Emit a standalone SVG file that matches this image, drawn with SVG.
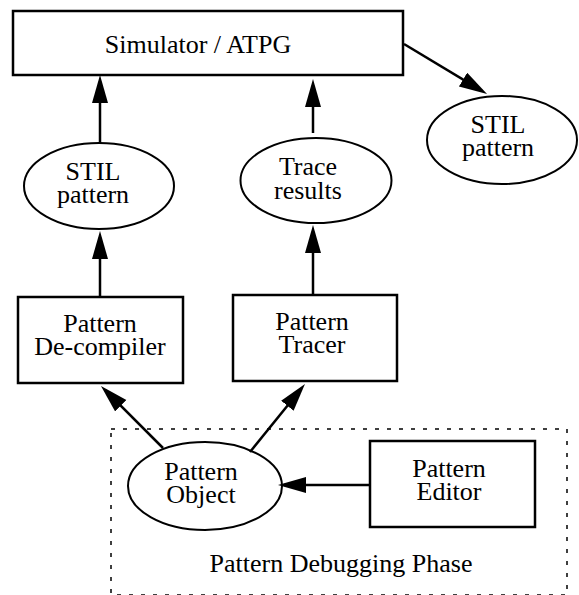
<svg xmlns="http://www.w3.org/2000/svg" width="579" height="595" viewBox="0 0 579 595">
<style>
.box{fill:#fff;stroke:#000;stroke-width:2.5}
.ell{fill:#fff;stroke:#000;stroke-width:2}
.t{font-family:"Liberation Serif","Times New Roman",serif;font-size:26px;fill:#000;text-anchor:middle}
.c{fill:none;stroke:#000;stroke-width:2.5;marker-end:url(#ah)}
.dash{fill:none;stroke:#000;stroke-width:1.5;stroke-dasharray:4 8}
</style>
<defs>
<marker id="ah" markerUnits="userSpaceOnUse" markerWidth="30" markerHeight="18" refX="22" refY="8" orient="auto">
<path d="M0,0 L28,8 L0,16 z" fill="#000"/>
</marker>
</defs>
<rect class="dash" x="111" y="429" width="456" height="166"/>
<g id="simulator">
<rect class="box" x="13" y="11" width="390" height="64"/>
<text class="t" x="198" y="53">Simulator / ATPG</text>
</g>
<g id="stil-left">
<ellipse class="ell" cx="99" cy="186" rx="75" ry="43"/>
<text class="t" x="93" y="180">STIL</text>
<text class="t" x="93" y="203">pattern</text>
</g>
<g id="trace-results">
<ellipse class="ell" cx="316" cy="180.5" rx="75.5" ry="42.5"/>
<text class="t" x="308" y="175">Trace</text>
<text class="t" x="308" y="199">results</text>
</g>
<g id="stil-right">
<ellipse class="ell" cx="502" cy="140" rx="75" ry="44"/>
<text class="t" x="498" y="133">STIL</text>
<text class="t" x="498" y="156">pattern</text>
</g>
<g id="decompiler">
<rect class="box" x="18" y="297" width="165" height="86"/>
<text class="t" x="100" y="332">Pattern</text>
<text class="t" x="100" y="355">De-compiler</text>
</g>
<g id="tracer">
<rect class="box" x="233" y="295" width="164" height="86"/>
<text class="t" x="312" y="330">Pattern</text>
<text class="t" x="312" y="353">Tracer</text>
</g>
<g id="pattern-object">
<ellipse class="ell" cx="205" cy="486" rx="77" ry="44"/>
<text class="t" x="201" y="480">Pattern</text>
<text class="t" x="201" y="503">Object</text>
</g>
<g id="pattern-editor">
<rect class="box" x="370" y="441" width="165" height="86"/>
<text class="t" x="449" y="477">Pattern</text>
<text class="t" x="449" y="500">Editor</text>
</g>
<text class="t" x="341" y="572">Pattern Debugging Phase</text>
<g id="connectors">
<line class="c" x1="100" y1="143" x2="100" y2="81"/>
<line class="c" x1="313" y1="133" x2="313" y2="85"/>
<line class="c" x1="404" y1="44" x2="481.9" y2="90.9"/>
<line class="c" x1="100" y1="297" x2="100" y2="237"/>
<line class="c" x1="313" y1="295" x2="313" y2="231"/>
<line class="c" x1="163" y1="448" x2="105.2" y2="390.2"/>
<line class="c" x1="250" y1="452" x2="301.2" y2="388.7"/>
<line class="c" x1="370" y1="485" x2="284" y2="485"/>
</g>
</svg>
